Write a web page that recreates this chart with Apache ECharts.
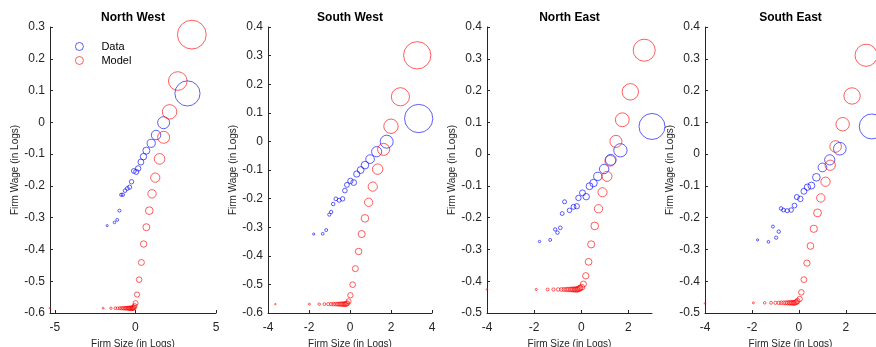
<!DOCTYPE html>
<html>
<head>
<meta charset="utf-8">
<script src="https://cdn.jsdelivr.net/npm/echarts@6/dist/echarts.min.js"></script>
<style>
  html, body { margin: 0; padding: 0; background: #fff; }
  #chart { width: 876px; height: 347px; }
</style>
</head>
<body>
<div id="chart"></div>
<script>
// Region titles
const regions = ['North West', 'South West', 'North East', 'South East'];

// North West
const nwDataX = [-1.75, -1.30, -1.13, -0.99, -0.88, -0.78, -0.64, -0.50, -0.36, -0.24, -0.10, 0.05, 0.17, 0.34, 0.50, 0.68, 0.98, 1.28, 1.75, 3.23];
const nwDataY = [-0.325, -0.315, -0.307, -0.278, -0.228, -0.228, -0.215, -0.208, -0.204, -0.187, -0.153, -0.156, -0.145, -0.125, -0.108, -0.089, -0.066, -0.040, -0.001, 0.091];
const nwModelX = [-5.3, -2.0, -1.52, -1.25, -1.10, -0.96, -0.85, -0.75, -0.66, -0.58, -0.50, -0.43, -0.37, -0.31, -0.26, -0.21, -0.17, -0.13, -0.09, -0.05, 0.01, 0.10, 0.23, 0.37, 0.51, 0.68, 0.86, 1.03, 1.23, 1.50, 1.75, 2.12, 2.63, 3.50];
const nwModelY = [-0.585, -0.585, -0.585, -0.585, -0.585, -0.585, -0.585, -0.585, -0.585, -0.585, -0.585, -0.585, -0.585, -0.585, -0.585, -0.585, -0.585, -0.584, -0.582, -0.578, -0.569, -0.542, -0.495, -0.441, -0.383, -0.330, -0.278, -0.225, -0.174, -0.115, -0.047, 0.033, 0.130, 0.276];

// South West
const swDataX = [-1.77, -1.33, -1.16, -1.01, -0.92, -0.82, -0.69, -0.53, -0.36, -0.25, -0.15, 0.02, 0.18, 0.33, 0.52, 0.73, 0.98, 1.30, 1.79, 3.35];
const swDataY = [-0.324, -0.323, -0.310, -0.256, -0.247, -0.219, -0.201, -0.206, -0.201, -0.172, -0.152, -0.138, -0.144, -0.114, -0.100, -0.083, -0.062, -0.036, -0.001, 0.080];
const swModelX = [-3.64, -1.98, -1.50, -1.25, -1.06, -0.92, -0.81, -0.71, -0.62, -0.54, -0.47, -0.40, -0.34, -0.28, -0.23, -0.18, -0.13, -0.07, 0.02, 0.13, 0.26, 0.42, 0.57, 0.73, 0.91, 1.11, 1.35, 1.64, 2.00, 2.46, 3.28];
const swModelY = [-0.569, -0.569, -0.569, -0.569, -0.569, -0.569, -0.569, -0.569, -0.569, -0.569, -0.569, -0.569, -0.569, -0.569, -0.569, -0.568, -0.566, -0.559, -0.538, -0.501, -0.445, -0.385, -0.324, -0.269, -0.213, -0.158, -0.097, -0.028, 0.053, 0.156, 0.301];

// North East
const neDataX = [-1.77, -1.32, -1.11, -1.01, -0.89, -0.81, -0.71, -0.50, -0.33, -0.19, -0.12, 0.05, 0.21, 0.35, 0.52, 0.70, 0.97, 1.25, 1.66, 3.00];
const neDataY = [-0.275, -0.270, -0.237, -0.247, -0.232, -0.187, -0.150, -0.177, -0.166, -0.164, -0.138, -0.122, -0.134, -0.101, -0.091, -0.070, -0.047, -0.018, 0.012, 0.087];
const neModelX = [-4.0, -1.91, -1.43, -1.18, -0.98, -0.84, -0.73, -0.63, -0.55, -0.47, -0.40, -0.34, -0.28, -0.23, -0.18, -0.13, -0.09, -0.05, 0.02, 0.09, 0.19, 0.31, 0.42, 0.57, 0.73, 0.90, 1.09, 1.23, 1.47, 1.74, 2.08, 2.67];
const neModelY = [-0.426, -0.426, -0.426, -0.426, -0.426, -0.426, -0.426, -0.426, -0.426, -0.426, -0.426, -0.426, -0.426, -0.426, -0.426, -0.425, -0.423, -0.421, -0.419, -0.409, -0.383, -0.339, -0.284, -0.226, -0.172, -0.120, -0.070, -0.021, 0.040, 0.108, 0.196, 0.327];

// South East
const seDataX = [-1.76, -1.30, -1.11, -0.97, -0.86, -0.76, -0.66, -0.50, -0.33, -0.19, -0.09, 0.06, 0.21, 0.36, 0.53, 0.74, 1.00, 1.31, 1.74, 3.10];
const seDataY = [-0.270, -0.276, -0.228, -0.263, -0.244, -0.171, -0.176, -0.178, -0.176, -0.162, -0.135, -0.141, -0.117, -0.104, -0.099, -0.073, -0.042, -0.018, 0.017, 0.087];
const seModelX = [-4.0, -1.94, -1.46, -1.19, -1.00, -0.86, -0.75, -0.65, -0.56, -0.48, -0.41, -0.35, -0.29, -0.24, -0.19, -0.14, -0.10, -0.06, 0.03, 0.10, 0.21, 0.34, 0.49, 0.63, 0.79, 0.93, 1.13, 1.33, 1.56, 1.86, 2.26, 2.86];
const seModelY = [-0.470, -0.468, -0.468, -0.468, -0.468, -0.468, -0.468, -0.468, -0.468, -0.468, -0.468, -0.468, -0.468, -0.468, -0.468, -0.467, -0.465, -0.462, -0.456, -0.435, -0.395, -0.343, -0.289, -0.235, -0.185, -0.138, -0.087, -0.035, 0.024, 0.094, 0.183, 0.311];

// Axis ticks
const xTicks = [[-5, 0, 5], [-4, -2, 0, 2, 4], [-4, -2, 0, 2], [-4, -2, 0, 2]];
const xLimits = [[-5.3, 5], [-4, 4], [-4, 3], [-4, 3.28]];
const yLimits = [[-0.6, 0.3], [-0.6, 0.4], [-0.5, 0.4], [-0.5, 0.4]];

const dataX = [nwDataX, swDataX, neDataX, seDataX];
const dataY = [nwDataY, swDataY, neDataY, seDataY];
const modelX = [nwModelX, swModelX, neModelX, seModelX];
const modelY = [nwModelY, swModelY, neModelY, seModelY];

const grids = [
  { left: 50, top: 27, width: 166, height: 286, outerBoundsMode: 'none' },
  { left: 268, top: 27, width: 164, height: 286, outerBoundsMode: 'none' },
  { left: 487, top: 27, width: 165, height: 286, outerBoundsMode: 'none' },
  { left: 705, top: 27, width: 171, height: 286, outerBoundsMode: 'none' }
];
// bubble scale per panel (marker area follows firm size)
const bubbleScale = [5.0, 5.3, 5.8, 5.3];

const FONT = '"Liberation Sans", Arial, sans-serif';
const AXIS_COLOR = '#262626';

const pair = (xs, ys) => xs.map((x, i) => [x, ys[i]]);

const chart = echarts.init(document.getElementById('chart'));

const option = {
  animation: false,
  textStyle: { fontFamily: FONT },
  title: regions.map((name, i) => ({
    text: name,
    left: grids[i].left + grids[i].width / 2,
    top: 12,
    textAlign: 'center',
    padding: 0,
    textStyle: { fontFamily: FONT, fontSize: 12, fontWeight: 'bold', color: '#000' }
  })),
  legend: {
    data: ['Data', 'Model'],
    orient: 'vertical',
    left: 70,
    top: 36,
    itemWidth: 34,
    itemHeight: 8,
    itemGap: 3,
    itemStyle: { borderWidth: 0.8 },
    textStyle: { fontFamily: FONT, fontSize: 11, color: '#000' }
  },
  grid: grids,
  xAxis: grids.map((g, i) => ({
    type: 'value',
    gridIndex: i,
    min: xLimits[i][0],
    max: xLimits[i][1],
    name: 'Firm Size (in Logs)',
    nameLocation: 'middle',
    nameGap: 24,
    nameTextStyle: { fontFamily: FONT, fontSize: 10, color: AXIS_COLOR },
    splitLine: { show: false },
    axisLine: { onZero: false, lineStyle: { color: AXIS_COLOR, width: 1 } },
    axisTick: { inside: true, length: 3, customValues: xTicks[i], lineStyle: { color: AXIS_COLOR } },
    axisLabel: { customValues: xTicks[i], margin: 9, fontFamily: FONT, fontSize: 12, color: AXIS_COLOR }
  })),
  yAxis: grids.map((g, i) => ({
    type: 'value',
    gridIndex: i,
    min: yLimits[i][0],
    max: yLimits[i][1],
    interval: 0.1,
    name: 'Firm Wage (in Logs)',
    nameLocation: 'middle',
    nameGap: 30,
    nameTextStyle: { fontFamily: FONT, fontSize: 10, color: AXIS_COLOR },
    splitLine: { show: false },
    axisLine: { show: true, onZero: false, lineStyle: { color: AXIS_COLOR, width: 1 } },
    axisTick: { inside: true, length: 3, lineStyle: { color: AXIS_COLOR } },
    axisLabel: { margin: 5, fontFamily: FONT, fontSize: 12, color: AXIS_COLOR }
  })),
  series: []
};

grids.forEach((g, i) => {
  const sizeFn = v => Math.max(1.5, bubbleScale[i] * Math.exp(v[0] / 2));
  option.series.push({
    name: 'Data',
    type: 'scatter',
    xAxisIndex: i,
    yAxisIndex: i,
    symbol: 'circle',
    symbolSize: sizeFn,
    clip: false,
    data: pair(dataX[i], dataY[i]),
    itemStyle: { color: 'rgba(0,0,0,0)', borderColor: '#0000ff', borderWidth: 0.8 }
  });
  option.series.push({
    name: 'Model',
    type: 'scatter',
    xAxisIndex: i,
    yAxisIndex: i,
    symbol: 'circle',
    symbolSize: sizeFn,
    clip: false,
    data: pair(modelX[i], modelY[i]),
    itemStyle: { color: 'rgba(0,0,0,0)', borderColor: '#ff0000', borderWidth: 0.8 }
  });
});

chart.setOption(option);
</script>
</body>
</html>
